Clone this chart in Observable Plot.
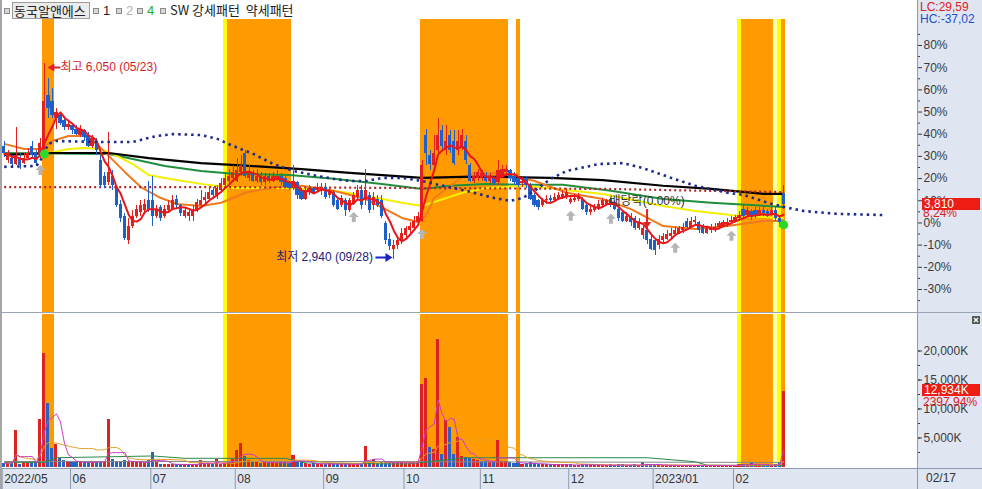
<!DOCTYPE html>
<html><head><meta charset="utf-8">
<script src="https://cdn.jsdelivr.net/npm/d3@7"></script>
<script src="https://cdn.jsdelivr.net/npm/@observablehq/plot@0.6"></script>
<style>
body{margin:0;background:#fff;}
#wrap{position:relative;width:982px;height:489px;overflow:hidden;background:#fff;font-family:"Liberation Sans",Arial,"Noto Sans CJK KR",sans-serif;}
#wrap > svg{position:absolute;left:0;}
.a{position:absolute;white-space:nowrap;}
.ic{position:absolute;width:4px;height:4px;border:1px solid #8a8a8a;background:#d8d8d8;top:8px;}
</style></head><body><div id="wrap"></div>
<script>
// ---- data (prices in won, volume in thousand shares) ----
const opens=[4740,4505,4550,4455,4535,4470,4550,4740,4615,4585,
4665,5535,5455,5170,5220,5140,5030,5060,5010,4900,
4980,4900,4740,4820,4505,4265,4155,4265,4075,3820,
3630,3235,3470,3630,3680,3710,3870,3870,3630,3760,
3630,3710,3740,3900,3790,3630,3615,3630,3710,3790,
3870,3900,4030,3950,4030,4110,4185,4220,4185,4315,
4630,4220,4315,4185,4265,4155,4250,4185,4220,4265,
4220,4155,4060,4155,4030,3900,4000,4060,4030,4030,
4090,3950,4000,3870,3790,3870,3710,3820,3930,4030,
3870,3950,3790,3900,3870,3505,3265,3105,3155,3235,
3315,3395,3425,3520,3550,4900,4585,4425,4665,4980,
4665,4900,4820,4665,4710,4820,4425,4185,4220,4220,
4265,4185,4235,4155,4265,4315,4345,4265,4220,4140,
4220,4110,3950,3870,3790,3870,3915,3870,3900,3915,
3930,3840,3870,3885,3900,3790,3680,3710,3740,3790,
3820,3885,3840,3740,3680,3550,3630,3585,3425,3315,
3395,3265,3235,3155,3235,3265,3300,3330,3360,3395,
3550,3455,3520,3520,3455,3360,3395,3410,3440,3470,
3490,3520,3550,3585,3740,3645,3695,3710,3645,3725,
3695,3645,3710,3585,3980];
const highs=[4820,4665,4585,5030,4615,4630,4695,4820,4665,4855,
6050,5820,5650,5330,5265,5170,5140,5105,5060,5060,
5010,4950,4900,4855,4585,4315,4950,4345,4110,3870,
3665,3585,3710,3790,3870,3900,4185,4265,3790,3790,
3790,3870,3950,3950,3820,3760,3740,3790,3900,4030,
4000,4060,4075,4110,4220,4300,4375,4425,4535,4585,
4665,4425,4345,4375,4315,4300,4300,4315,4345,4300,
4265,4185,4425,4185,4060,4075,4110,4090,4140,4140,
4140,4075,4030,3915,3950,3915,3915,4000,4110,4110,
4375,4000,4000,3950,3950,3550,3360,3235,3300,3425,
3470,3520,3630,3680,4505,5010,4665,4900,5185,5060,
5060,4980,4980,4980,5010,4900,4470,4315,4375,4345,
4315,4300,4265,4505,4425,4425,4375,4315,4265,4235,
4265,4140,3980,3900,3915,3950,3950,3980,4000,4030,
4060,3950,3965,3980,3930,3820,3790,3820,3870,3915,
3900,3915,3870,3790,3710,3680,3665,3630,3585,3470,
3440,3315,3280,3315,3345,3395,3425,3440,3470,3505,
3585,3600,3615,3550,3490,3470,3490,3505,3550,3565,
3585,3615,3645,3695,3790,3760,3740,3760,3760,3775,
3740,3760,3760,3630,4110];
const lows=[4565,4470,4410,4425,4375,4440,4535,4550,4410,4535,
4630,5170,5170,5010,5060,4980,4980,4930,4900,4870,
4820,4710,4695,4585,4075,4060,4110,4030,3760,3520,
3235,3185,3425,3585,3630,3680,3680,3470,3585,3550,
3585,3680,3710,3740,3630,3585,3550,3550,3680,3760,
3820,3870,3900,3900,3980,4060,4140,4155,4155,4265,
4220,4185,4155,4140,4110,4110,4140,4155,4185,4110,
4060,4030,4030,3900,3870,3870,3950,3965,4000,3950,
3900,3915,3760,3710,3760,3630,3680,3790,3870,3740,
3790,3665,3710,3760,3585,3185,3090,2940,3105,3185,
3280,3345,3395,3470,3520,4425,4345,4375,4585,4665,
4585,4615,4425,4585,4665,4455,4155,4140,4185,4170,
4155,4140,4110,4110,4220,4265,4185,4110,4075,4090,
4060,3870,3760,3710,3760,3820,3820,3840,3870,3885,
3900,3810,3840,3855,3710,3645,3645,3680,3710,3760,
3790,3760,3710,3550,3520,3520,3470,3395,3395,3265,
3185,3075,3000,3105,3200,3235,3265,3300,3330,3360,
3425,3425,3490,3360,3330,3330,3360,3375,3410,3440,
3455,3490,3520,3550,3585,3615,3565,3585,3615,3630,
3600,3615,3550,3455,3740];
const closes=[4615,4615,4455,4585,4425,4550,4630,4585,4470,4775,
5455,5330,5220,5265,5105,5030,5090,4980,4930,5010,
4870,4740,4855,4665,4110,4110,4315,4110,3790,3585,
3280,3470,3630,3740,3790,3820,3710,3630,3740,3585,
3740,3790,3870,3790,3665,3710,3680,3740,3840,3870,
3930,4000,3950,4060,4140,4220,4265,4315,4345,4425,
4265,4315,4185,4265,4155,4250,4170,4250,4265,4155,
4090,4060,4185,3950,3900,4030,4060,4000,4090,4090,
3930,4030,3790,3740,3915,3710,3870,3950,4030,3790,
4030,3710,3930,3790,3630,3235,3140,3170,3235,3360,
3425,3470,3550,3630,4425,4630,4455,4630,4900,4740,
4820,4665,4470,4820,4900,4505,4185,4265,4315,4300,
4185,4235,4140,4345,4375,4375,4220,4155,4110,4185,
4110,3900,3790,3760,3870,3900,3870,3930,3950,3965,
4000,3900,3915,3930,3740,3680,3740,3775,3820,3870,
3870,3790,3740,3585,3550,3630,3520,3425,3520,3425,
3235,3105,3075,3265,3300,3330,3360,3395,3425,3455,
3455,3550,3565,3395,3360,3425,3440,3455,3505,3520,
3535,3565,3600,3645,3615,3710,3600,3615,3710,3665,
3630,3710,3585,3520,3810];
const volumes=[600,700,800,6230,500,700,800,900,800,8250,
19530,10940,3200,3870,1400,1100,900,800,900,700,
800,700,800,900,1000,900,8250,1300,900,1000,
1100,900,800,700,800,600,1100,2500,700,500,
500,400,500,400,400,500,400,500,400,1200,
500,600,400,1300,500,600,900,1300,2860,4040,
1850,1100,700,800,600,900,700,800,600,700,
800,600,2000,1000,700,600,500,600,500,500,
500,600,500,400,500,500,500,400,500,600,
3530,700,1350,600,700,900,700,800,700,700,
600,700,800,900,14300,15300,3370,3030,21900,2190,
8080,6730,2190,5050,1800,1600,1500,1300,1200,1000,
900,800,700,4550,900,900,700,600,800,500,
600,700,600,500,400,400,400,350,400,350,
400,350,300,300,500,400,350,300,300,300,
300,350,300,400,350,300,300,350,300,700,
450,350,300,400,300,300,250,300,250,250,
300,250,250,300,300,250,250,300,250,250,
300,250,300,350,500,400,700,400,350,300,
350,300,400,539.38,12934];

const monthLabels=["2022/05","06","07","08","09","10","11","12","2023/01","02"];
const monthStart=[0,17,37,58,80,100,119,141,162,182];
const lastDate="02/17";
const highDate="05/23", lowDate="09/28";
// pattern bands (bar index ranges)
const strongBands=[[10,12],[56,71],[104,125],[128,128],[184,191],[194,194]];
const weakBands=[[55,55],[183,183],[193,193]];
const paleBands=[[192,192]];
const upSignals=[9,87,104,141,151,167,181];
const greenSignals=[[10,4615],[194,3490]];
const exDivBar=160, exDivText="배당락(0.00%)";
// moving-average lines [bar, price]
const ma20=[[0,4775],[5,4695],[9,4695],[12,4820],[16,4900],[20,4900],[23,4775],[26,4585],[30,4330],[34,4090],[39,3915],[43,3820],[49,3790],[54,3840],[60,4000],[66,4075],[71,4110],[74,4110],[82,4030],[90,3900],[99,3600],[103,3535],[105,3640],[107,3915],[114,4250],[117,4315],[124,4300],[132,4185],[140,4000],[149,3900],[156,3740],[164,3470],[172,3425],[180,3470],[189,3550],[194,3550]];
const ma60=[[0,4600],[10,4615],[16,4695],[20,4710],[24,4695],[28,4585],[32,4455],[36,4280],[41,4220],[49,4140],[57,4075],[72,4075],[82,4030],[90,3950],[99,3840],[104,3790],[114,4000],[120,4075],[130,4110],[149,3980],[164,3790],[172,3710],[183,3630],[194,3600]];
const ma120=[[0,4630],[26,4615],[32,4535],[40,4425],[49,4345],[57,4300],[71,4280],[82,4220],[94,4140],[104,4060],[111,4110],[120,4140],[130,4125],[139,4125],[151,4030],[164,3900],[176,3840],[194,3775]];
const ma240=[[0,4600],[12,4630],[26,4630],[36,4550],[49,4470],[61,4425],[74,4375],[86,4315],[104,4235],[114,4250],[124,4250],[136,4235],[149,4200],[164,4110],[176,4060],[189,3980],[194,3980]];
const longLine=[[0,4090],[50,4090],[100,4075],[150,4060],[175,4030],[194,4010]];
const leadLine=[[0,4410],[8,4425],[9,4505],[11,4775],[13,4820],[24,4805],[32,4805],[35,4855],[38,4900],[42,4930],[49,4915],[53,4855],[57,4740],[62,4615],[67,4455],[72,4345],[78,4265],[82,4220],[86,4185],[90,4185],[94,4235],[99,4235],[104,4185],[107,4140],[115,4030],[122,3915],[126,3870],[129,3915],[132,4030],[136,4220],[140,4345],[148,4455],[154,4470],[159,4390],[166,4235],[172,4110],[180,4000],[184,3965],[190,3840],[195,3760],[199,3710],[207,3665],[219,3645]];
const volMA60=[[0,800],[10,800],[13,1600],[37,1900],[45,1500],[70,1500],[75,700],[100,500],[104,800],[115,1600],[160,1600],[172,900],[175,300],[194,250]];
const volMA120=[[0,950],[100,950],[110,900],[194,780]];
const volTicks=[5000,10000,15000,20000];

// ---- layout ----
const FONT='"Liberation Sans",Arial,"Noto Sans CJK KR",sans-serif';
const RED="#e3201b", BLUE="#1f5fc8", ORANGE="#ff9a00", YEL="#ffff00", AX="#3a3a3a";
const wrap=document.getElementById("wrap");
const bars=opens.map((o,i)=>({i,o,h:highs[i],l:lows[i],c:closes[i],v:volumes[i],
  up:closes[i]>=o, vup: i===0?closes[i]>=o:closes[i]>=closes[i-1]}));
const base=closes[closes.length-2];
const P=p=>base*(1+p/100);
const xDomain=[-0.92,227.3];
const sty={background:"transparent",overflow:"visible",fontSize:"12px",fontFamily:FONT,color:AX};
const band=(list,fill)=>Plot.rect(list,{x1:d=>d[0]-0.5,x2:d=>d[1]+0.5,fill,shapeRendering:"crispEdges"});
const kline=(arr,stroke,w,dash)=>Plot.line(arr,{x:d=>d[0],y:d=>d[1],stroke,strokeWidth:w,strokeDasharray:dash,strokeLinecap:"butt"});
const candles=(data,color)=>[
  Plot.ruleX(data,{x:"i",y1:"l",y2:"h",stroke:color,strokeWidth:1,shapeRendering:"crispEdges"}),
  Plot.rect(data,{x1:d=>d.i-0.4,x2:d=>d.i+0.4,y1:"o",y2:"c",fill:color,shapeRendering:"crispEdges"})];
const upArrow={draw(c){c.moveTo(0,-5);c.lineTo(5,0);c.lineTo(2,0);c.lineTo(2,5);c.lineTo(-2,5);c.lineTo(-2,0);c.lineTo(-5,0);c.closePath();}};
const leftArrow={draw(c){c.moveTo(0,0);c.lineTo(7,-4);c.lineTo(7,-1);c.lineTo(13,-1);c.lineTo(13,1);c.lineTo(7,1);c.lineTo(7,4);c.closePath();}};
const rightArrow={draw(c){c.moveTo(0,0);c.lineTo(-7,-4.5);c.lineTo(-7,-1);c.lineTo(-17,-1);c.lineTo(-17,1);c.lineTo(-7,1);c.lineTo(-7,4.5);c.closePath();}};
const downArrow={draw(c){c.moveTo(0,0);c.lineTo(-4,-6);c.lineTo(-1,-6);c.lineTo(-1,-19);c.lineTo(1,-19);c.lineTo(1,-6);c.lineTo(4,-6);c.closePath();}};
const hiIdx=d3.maxIndex(highs), loIdx=d3.minIndex(lows);
const fmt=d3.format(",");
const pctTicks=d3.range(-30,81,10), pctMinor=d3.range(-35,86,10);

// axis column background
const col=document.createElement("div");col.className="a";
Object.assign(col.style,{left:"917px",top:"0",width:"65px",height:"489px",background:"#dfe6f1",borderLeft:"1px solid #8d9bb0"});
wrap.appendChild(col);

const price=Plot.plot({width:982,height:313,marginTop:19,marginBottom:1,marginLeft:0,marginRight:65,style:sty,
  x:{domain:xDomain,axis:null},y:{domain:[P(-40.37),P(91.72)],axis:null},
  marks:[
    band(strongBands,ORANGE),band(weakBands,YEL),band(paleBands,"#ffffb0"),
    kline(ma120,"#1f8f3c",2),kline(ma60,"#f2f000",2),kline(ma20,"#f07a1c",2),kline(ma240,"#000",2.2),
    kline(longLine,"#b0282c",2.2,"2,3"),
    ...candles(bars.filter(d=>d.up),RED),...candles(bars.filter(d=>!d.up),BLUE),
    Plot.lineY(bars,Plot.windowY({k:5,anchor:"end"},{x:"i",y:"c",stroke:"#e8161b",strokeWidth:2})),
    kline(leadLine,"#1c2a8c",2.6,"2.5,4"),
    Plot.dot(upSignals,{x:d=>d,y:d=>lows[d],dy:11,symbol:upArrow,fill:"#b5b5b5",stroke:"none"}),
    Plot.dot(greenSignals,{x:d=>d[0],y:d=>d[1],r:4.5,fill:"#2bd92b",stroke:"none"}),
    Plot.dot([exDivBar],{x:d=>d,y:d=>highs[d],symbol:downArrow,fill:"#e3201b",stroke:"none"}),
    Plot.text([exDivBar],{x:d=>d,y:d=>highs[d],dy:-27,text:()=>exDivText,fill:"#333",fontSize:12,fontFamily:FONT}),
    Plot.dot([hiIdx],{x:d=>d,y:d=>highs[d],dx:3,dy:4,symbol:leftArrow,fill:"#e0202a",stroke:"none"}),
    Plot.text([hiIdx],{x:d=>d,y:d=>highs[d],dx:16,dy:4,textAnchor:"start",text:d=>`최고 ${fmt(highs[d])} (${highDate})`,fill:"#d21e2a",fontSize:12,fontFamily:FONT}),
    Plot.dot([loIdx],{x:d=>d,y:d=>lows[d],dx:-1.5,dy:-2,symbol:rightArrow,fill:"#1a22c8",stroke:"none"}),
    Plot.text([loIdx],{x:d=>d,y:d=>lows[d],dx:-21,dy:-2,textAnchor:"end",text:d=>`최저 ${fmt(lows[d])} (${lowDate})`,fill:"#22227a",fontSize:12,fontFamily:FONT}),
    Plot.axisY(pctMinor.map(P),{anchor:"right",tickSize:2,fill:"none",stroke:AX,label:null}),
    Plot.axisY(pctTicks.map(P),{anchor:"right",tickSize:4,tickPadding:2,tickFormat:v=>Math.round((v/base-1)*100)+"%",fontSize:12,label:null})
  ]});
price.style.top="0px";wrap.appendChild(price);

const VMAX=26293;
const vol=Plot.plot({width:982,height:155,marginTop:1,marginBottom:1.5,marginLeft:0,marginRight:65,style:sty,
  x:{domain:xDomain,axis:null},y:{domain:[0,VMAX],axis:null},
  marks:[
    band(strongBands,ORANGE),band(weakBands,YEL),band(paleBands,"#ffffb0"),
    Plot.rect(bars.filter(d=>d.vup),{x1:d=>d.i-0.38,x2:d=>d.i+0.38,y1:0,y2:"v",fill:"#dd2222",shapeRendering:"crispEdges"}),
    Plot.rect(bars.filter(d=>!d.vup),{x1:d=>d.i-0.38,x2:d=>d.i+0.38,y1:0,y2:"v",fill:"#2a62c0",shapeRendering:"crispEdges"}),
    kline(volMA120,"#888",1),kline(volMA60,"#2a8a4a",1),
    Plot.lineY(bars,Plot.windowY({k:20,anchor:"end"},{x:"i",y:"v",stroke:"#e8a020",strokeWidth:1})),
    Plot.lineY(bars,Plot.windowY({k:5,anchor:"end"},{x:"i",y:"v",stroke:"#c83cc8",strokeWidth:1})),
    Plot.axisY(d3.range(2500,22500,2500),{anchor:"right",tickSize:2,fill:"none",stroke:AX,label:null}),
    Plot.axisY(volTicks,{anchor:"right",tickSize:4,tickPadding:2,tickFormat:v=>fmt(v)+"K",fontSize:12,label:null})
  ]});
vol.style.top="313px";wrap.appendChild(vol);

// separators & bottom row
const add=(css,html)=>{const d=document.createElement("div");d.className="a";Object.assign(d.style,css);if(html!=null)d.innerHTML=html;wrap.appendChild(d);return d;};
add({left:"0",top:"312px",width:"982px",height:"1px",background:"#9aa4b2"});
add({left:"0",top:"468px",width:"982px",height:"21px",background:"#dfe6f1",borderTop:"1px solid #8d9bb0",boxSizing:"border-box"});
add({left:"0",top:"0",width:"2px",height:"489px",background:"#a6a6a6"});
const axisRow=Plot.plot({width:982,height:20,marginTop:0,marginBottom:0,marginLeft:0,marginRight:65,style:sty,
  x:{domain:xDomain,axis:null},
  marks:[Plot.ruleX(monthStart,{x:d=>d-0.5,stroke:"#8d9bb0"}),
    Plot.text(monthStart,{x:d=>d-0.5,dx:2,textAnchor:"start",text:(d,i)=>monthLabels[i],fill:"#333",fontSize:12})]});
axisRow.style.top="469px";wrap.appendChild(axisRow);
add({left:"917px",top:"468px",width:"1px",height:"21px",background:"#8d9bb0"});
add({left:"926px",top:"471px",font:"12px "+FONT,color:"#333",lineHeight:"14px"},lastDate);

// right-side value labels
const last=closes[closes.length-1];
const pc=v=>v.toFixed(2).replace(".",",");
const lc=(last/d3.min(lows)-1)*100, hc=(last/d3.max(highs)-1)*100;
add({left:"920px",top:"1px",font:"12px "+FONT,color:"#e02020",lineHeight:"12px"},"LC:"+pc(lc));
add({left:"920px",top:"13px",font:"12px "+FONT,color:"#2050d0",lineHeight:"12px"},"HC:"+pc(hc));
const yP=price.scale("y").apply(last);
add({left:"922px",top:(yP-6)+"px",width:"58px",height:"12px",background:"#ee1c12",color:"#fff",font:"12px "+FONT,lineHeight:"12px",paddingLeft:"2px",boxSizing:"border-box"},fmt(last));
add({left:"923px",top:(yP+3)+"px",font:"12px "+FONT,color:"#e02020",lineHeight:"12px"},pc((last/base-1)*100)+"%");
const lv=volumes[volumes.length-1], pv=volumes[volumes.length-2];
const yV=313+vol.scale("y").apply(lv);
add({left:"922px",top:(yV-7)+"px",width:"58px",height:"12px",background:"#ee1c12",color:"#fff",font:"12px "+FONT,lineHeight:"12px",paddingLeft:"2px",boxSizing:"border-box"},fmt(lv)+"K");
add({left:"923px",top:(yV+5)+"px",font:"12px "+FONT,color:"#e02020",lineHeight:"12px"},pc(lv/pv*100)+"%");
// panel close button (drawn, not text)
add({left:"972px",top:"316px",width:"8px",height:"8px",background:"#5a5a5a"},
  '<svg width="8" height="8" style="position:absolute;left:0;top:0"><path d="M2,2L6,6M6,2L2,6" stroke="#fff" stroke-width="1.2"/></svg>');

// legend row
const K='"Noto Sans CJK KR","Liberation Sans",sans-serif';
const ic=x=>{const d=document.createElement("div");d.className="ic";d.style.left=x+"px";wrap.appendChild(d);};
ic(4);add({left:"12px",top:"2px",width:"78px",height:"17px",border:"1px solid #9c9c9c",background:"#ececec",boxSizing:"border-box",font:"13px "+K,lineHeight:"15px",paddingLeft:"1px",color:"#222"},"동국알앤에스");
ic(93);add({left:"103px",top:"3px",font:"13px "+FONT,color:"#222",lineHeight:"15px"},"1");
ic(116);add({left:"126px",top:"3px",font:"13px "+FONT,color:"#b0b0b0",lineHeight:"15px"},"2");
ic(137);add({left:"147px",top:"3px",font:"13px "+FONT,color:"#1db01d",lineHeight:"15px"},"4");
ic(160);add({left:"170px",top:"2px",font:"13px "+K,color:"#222",lineHeight:"16px"},"SW 강세패턴&nbsp;&nbsp;약세패턴");
</script></body></html>
